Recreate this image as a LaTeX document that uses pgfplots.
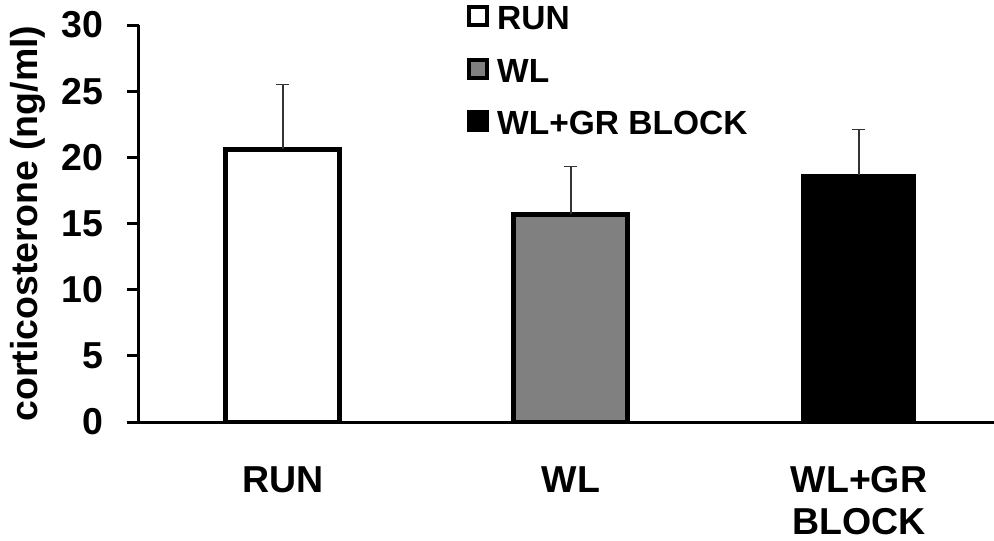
\documentclass[border=0pt]{standalone}
\usepackage{fontspec}
\setmainfont{Liberation Sans}
\usepackage{pgfplots}
\pgfplotsset{compat=1.18}
\newcommand{\bigbf}{\fontsize{37.5}{42}\selectfont\bfseries}
\newcommand{\legbf}{\fontsize{33.5}{36}\selectfont\bfseries}
\definecolor{wlgray}{HTML}{808080}
\begin{document}
\begin{tikzpicture}
\path[use as bounding box] (-139pt,-119pt) rectangle (855pt,422pt);
\begin{axis}[
  at={(0pt,0pt)}, anchor=south west,
  scale only axis, width=855pt, height=397pt,
  xmin=-0.5, xmax=2.469, ymin=0, ymax=30,
  axis x line=bottom, axis y line=left,
  axis line style={-, line width=3pt, black},
  ybar, bar width=114pt, bar shift=0pt,
  xtick={0,1,2}, xticklabels={RUN,WL,{WL+GR\\BLOCK}},
  x tick label style={align=center, font=\bigbf, anchor=north, yshift=-29pt},
  major x tick style={draw=none},
  ytick={0,5,...,30},
  y tick label style={font=\bigbf, anchor=east, xshift=-20pt},
  tick align=outside, major tick length=12pt,
  major y tick style={line width=3pt, black},
  /pgf/number format/assume math mode=true,
  ylabel={corticosterone (ng/ml)},
  every axis y label/.style={at={(axis description cs:-0.1298,0.5)}, rotate=90, anchor=center, font=\bigbf},
  legend style={at={(axis description cs:0.3836,1.05)}, anchor=north west,
    draw=none, fill=none, inner sep=0pt, row sep=28pt, column sep=8pt,
    font=\legbf, nodes={inner sep=0pt, text height=23pt, text depth=0pt}},
  legend cell align=left,
  legend image code/.code={\draw[#1, line width=4pt, draw=black] (0pt,-7pt) rectangle (18pt,11pt);},
  error bars/y dir=plus, error bars/y explicit,
  error bars/error bar style={line width=1.5pt, black!80},
  error bars/error mark options={rotate=90, mark size=6.5pt, line width=1.5pt, black!80},
]
% group means with upward SEM
\addplot[fill=white, draw=black, line width=5pt] coordinates {(0,20.6) +- (0,4.9)};
\addlegendentry{RUN}
\addplot[fill=wlgray, draw=black, line width=5pt] coordinates {(1,15.7) +- (0,3.6)};
\addlegendentry{WL}
\addplot[fill=black, draw=black, line width=1pt] coordinates {(2,18.7) +- (0,3.4)};
\addlegendentry{WL+GR BLOCK}
\end{axis}
\end{tikzpicture}
\end{document}
